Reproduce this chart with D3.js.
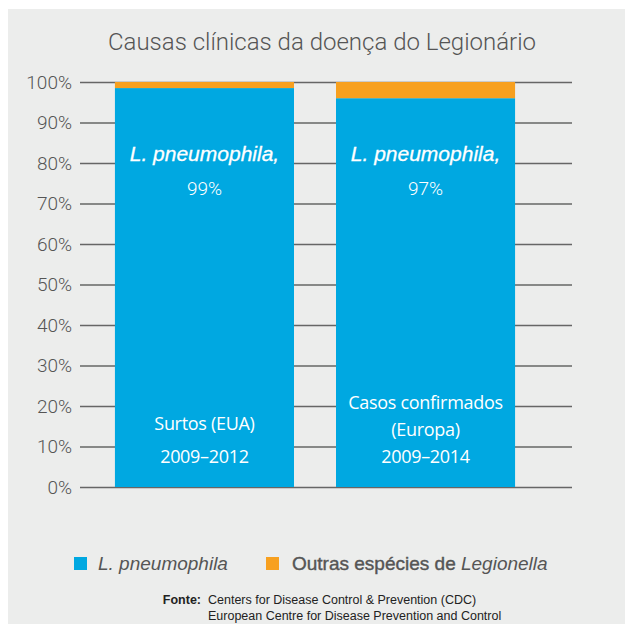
<!DOCTYPE html>
<html>
<head>
<meta charset="utf-8">
<script src="https://cdn.jsdelivr.net/npm/d3@7"></script>
<style>
  body { margin: 0; background: #fff; }
  svg { display: block; }
</style>
</head>
<body>
<svg id="chart" width="625" height="624"></svg>
<script>
// 데이터
const categories = ["Surtos (EUA)", "Casos confirmados (Europa)"];
const pneumophila = [98.5, 96];
const outras = [1.5, 4];
const pctLabels = ["99%", "97%"];
const catLines = [["Surtos (EUA)", "2009–2012"], ["Casos confirmados", "(Europa)", "2009–2014"]];
const yTicks = [0, 10, 20, 30, 40, 50, 60, 70, 80, 90, 100];

const blue = "#00a8e1";
const orange = "#f7a01f";
const grey = "#555";

const svg = d3.select("#chart");

// 배경
svg.append("rect")
    .attr("x", 8).attr("y", 9)
    .attr("width", 617).attr("height", 615)
    .attr("fill", "#ecedec");

// 제목
svg.append("text")
    .attr("x", 322).attr("y", 50)
    .attr("text-anchor", "middle")
    .style("font-family", "Roboto, 'Liberation Sans', sans-serif")
    .style("font-weight", 300)
    .style("font-size", "24px")
    .style("fill", grey)
    .text("Causas clínicas da doença do Legionário");

const x = d3.scaleBand()
    .domain(categories)
    .range([80, 550])
    .paddingInner(0.19)
    .paddingOuter(0.158);

const y = d3.scaleLinear()
    .domain([0, 100])
    .range([487, 82]);

// 눈금선
svg.append("g")
    .attr("transform", "translate(80,0)")
    .call(d3.axisLeft(y).tickValues(yTicks).tickSize(-492).tickPadding(8).tickFormat(d => d + "%"))
    .call(g => g.select(".domain").remove())
    .call(g => g.selectAll("line").attr("stroke", "#666").attr("stroke-width", 1.3))
    .call(g => g.selectAll("text")
        .style("font-family", "Roboto, 'Liberation Sans', sans-serif")
        .style("font-weight", 300)
        .style("font-size", "19px")
        .style("fill", grey));

// 막대
const bars = svg.append("g");
bars.selectAll(".blue")
    .data(categories)
    .join("rect")
    .attr("x", d => x(d))
    .attr("width", x.bandwidth())
    .attr("y", (d, i) => y(pneumophila[i]))
    .attr("height", (d, i) => y(0) - y(pneumophila[i]))
    .attr("fill", blue);

bars.selectAll(".orange")
    .data(categories)
    .join("rect")
    .attr("x", d => x(d))
    .attr("width", x.bandwidth())
    .attr("y", (d, i) => y(pneumophila[i] + outras[i]))
    .attr("height", (d, i) => y(pneumophila[i]) - y(pneumophila[i] + outras[i]))
    .attr("fill", orange);

// 막대 안 텍스트
categories.forEach((c, i) => {
    const cx = x(c) + x.bandwidth() / 2;
    svg.append("text")
        .attr("x", cx).attr("y", 161)
        .attr("text-anchor", "middle")
        .style("font-family", "'Liberation Sans', Arial, sans-serif")
        .style("font-style", "italic")
        .style("font-size", "21px")
        .style("fill", "#fff")
        .style("stroke", "#fff")
        .style("stroke-width", 0.3)
        .text("L. pneumophila,");
    svg.append("text")
        .attr("x", cx).attr("y", 195)
        .attr("text-anchor", "middle")
        .style("font-family", "Roboto, 'Liberation Sans', sans-serif")
        .style("font-weight", 300)
        .style("font-size", "19px")
        .style("fill", "#fff")
        .text(pctLabels[i]);

    const lines = catLines[i];
    const lastY = 463;
    const gap = lines.length === 3 ? 27 : 33;
    lines.forEach((t, j) => {
        svg.append("text")
            .attr("x", cx)
            .attr("y", lastY - (lines.length - 1 - j) * gap)
            .attr("text-anchor", "middle")
            .style("font-family", "'Open Sans', 'Noto Sans', sans-serif")
            .style("font-size", "18px")
            .style("letter-spacing", "-0.3px")
            .style("fill", "#fff")
            .text(t);
    });
});

// 범례
const legend = svg.append("g")
    .style("font-family", "'Liberation Sans', Arial, sans-serif")
    .style("font-size", "19px")
    .style("fill", grey);

legend.append("rect").attr("x", 74).attr("y", 557).attr("width", 13).attr("height", 13).attr("fill", blue);
legend.append("text").attr("x", 98).attr("y", 570).style("font-style", "italic").text("L. pneumophila");

legend.append("rect").attr("x", 266).attr("y", 557).attr("width", 13).attr("height", 13).attr("fill", orange);
const t2 = legend.append("text").attr("x", 292).attr("y", 570);
t2.append("tspan").style("stroke", grey).style("stroke-width", 0.4).text("Outras espécies de ");
t2.append("tspan").style("font-style", "italic").text("Legionella");

// 출처
const src = svg.append("g")
    .style("font-family", "'Liberation Sans', Arial, sans-serif")
    .style("font-size", "12.5px")
    .style("fill", "#222");
src.append("text").attr("x", 201).attr("y", 604).attr("text-anchor", "end").style("font-weight", "bold").text("Fonte:");
src.append("text").attr("x", 208).attr("y", 604).text("Centers for Disease Control & Prevention (CDC)");
src.append("text").attr("x", 208).attr("y", 620).text("European Centre for Disease Prevention and Control");
</script>
</body>
</html>
